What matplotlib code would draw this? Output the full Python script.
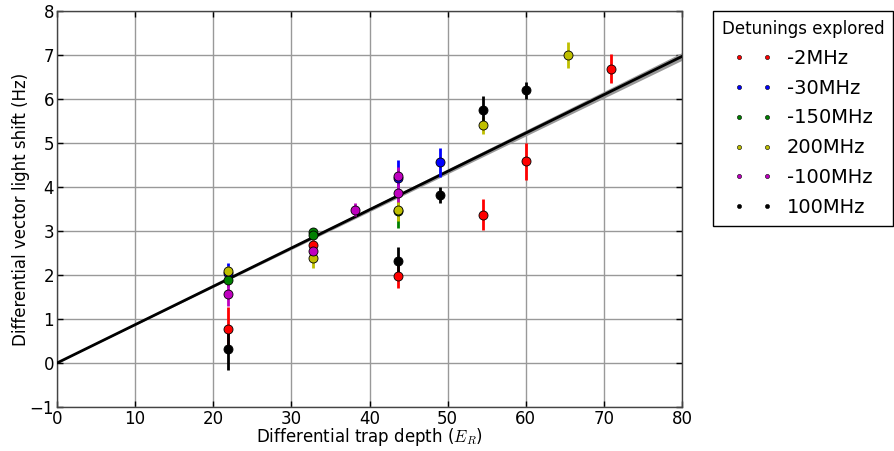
import matplotlib
matplotlib.use("Agg")
import matplotlib.pyplot as plt
from matplotlib.lines import Line2D
import numpy as np

plt.rcParams['font.family'] = ['DejaVu Sans']
plt.rcParams['mathtext.fontset'] = 'cm'

labels = ['-2MHz', '-30MHz', '-150MHz', '200MHz', '-100MHz', '100MHz']
colors = ['#ff0000', '#0000ff', '#008000', '#bfbf00', '#bf00bf', '#000000']

red_x = [21.9, 32.8, 43.6, 54.5, 60.0, 70.9]
red_y = [0.77, 2.69, 1.97, 3.37, 4.58, 6.69]
red_e = [0.50, 0.10, 0.27, 0.35, 0.42, 0.33]

blue_x = [21.9, 43.6, 49.0]
blue_y = [2.05, 4.20, 4.56]
blue_e = [0.22, 0.42, 0.33]

green_x = [21.9, 32.8, 32.8, 43.6]
green_y = [1.88, 2.98, 2.90, 3.46]
green_e = [0.15, 0.08, 0.08, 0.40]

yellow_x = [21.9, 32.8, 43.6, 54.5, 65.4]
yellow_y = [2.10, 2.39, 3.48, 5.40, 7.00]
yellow_e = [0.10, 0.22, 0.25, 0.20, 0.30]

magenta_x = [21.9, 32.8, 38.1, 43.6, 43.6]
magenta_y = [1.57, 2.54, 3.48, 4.26, 3.86]
magenta_e = [0.28, 0.10, 0.15, 0.20, 0.20]

black_x = [21.9, 43.6, 49.0, 54.5, 60.0]
black_y = [0.32, 2.31, 3.82, 5.76, 6.20]
black_e = [0.47, 0.33, 0.19, 0.31, 0.19]

fit_slope = 0.0871
fit_slope_err = 0.0011

series = [
    (red_x, red_y, red_e),
    (blue_x, blue_y, blue_e),
    (green_x, green_y, green_e),
    (yellow_x, yellow_y, yellow_e),
    (magenta_x, magenta_y, magenta_e),
    (black_x, black_y, black_e),
]

fig = plt.figure(figsize=(8.94, 4.51), dpi=100)
ax = fig.add_axes([57/894, 1-407/451, (682-57)/894, (407-11)/451])

ax.grid(True, color='#999999', linestyle='-', linewidth=1.0, zorder=0)
ax.set_axisbelow(True)

xf = np.linspace(0, 80, 200)
ax.fill_between(xf, (fit_slope - fit_slope_err) * xf, (fit_slope + fit_slope_err) * xf,
                color='#999999', linewidth=0, zorder=2)
ax.plot(xf, fit_slope * xf, color='k', linewidth=2, zorder=3)

for (x, y, e), c in zip(series, colors):
    ax.errorbar(x, y, yerr=e, fmt='o', color=c, ecolor=c, elinewidth=2,
                markersize=6.5, markeredgecolor='k', markeredgewidth=0.6,
                capsize=0, zorder=4)

ax.set_xlim(0, 80)
ax.set_ylim(-1, 8)
ax.set_xticks(np.arange(0, 81, 10))
ax.set_yticks(np.arange(-1, 9, 1))
ax.tick_params(direction='in', top=True, right=True, labelsize=12, length=4, width=1, pad=2)
for s in ax.spines.values():
    s.set_color('#444444')
    s.set_linewidth(1)

ax.set_xlabel('Differential trap depth ($E_R$)', fontsize=12, labelpad=-1)
ax.set_ylabel('Differential vector light shift (Hz)', fontsize=12, labelpad=0)

handles = [Line2D([0], [0], marker='o', color=c, linestyle='none', markersize=3,
                  markeredgecolor='k', markeredgewidth=0.4) for c in colors]
leg = ax.legend(handles, labels, title='Detunings explored', loc='upper left',
                bbox_to_anchor=(1.05, 1.0), borderaxespad=0, numpoints=2,
                fontsize=14, title_fontsize=12, fancybox=False, framealpha=1,
                edgecolor='k', handlelength=2.0, handletextpad=0.75, labelspacing=0.56,
                borderpad=0.45)
leg.get_frame().set_linewidth(1)

fig.savefig('out.png', dpi=100)
